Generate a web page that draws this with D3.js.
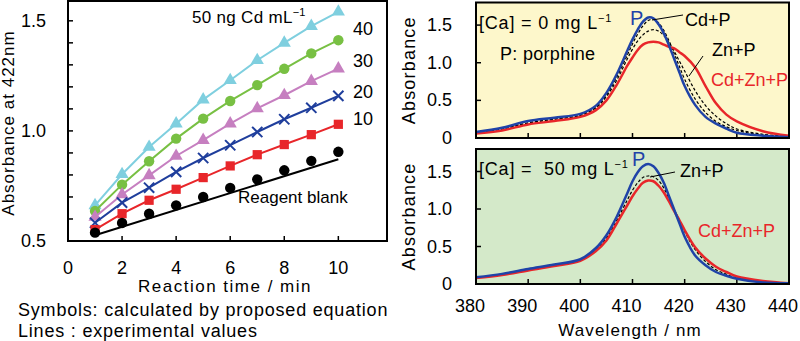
<!DOCTYPE html>
<html>
<head>
<meta charset="utf-8">
<script src="https://cdn.jsdelivr.net/npm/d3@7"></script>
<style>
  body { margin: 0; background: #fff; }
  svg { display: block; font-family: "Liberation Sans", Arial, sans-serif; }
  text { white-space: pre; }
</style>
</head>
<body>
<div id="chart"></div>
<script>
// ---- left panel: absorbance at 422 nm vs reaction time ----
const times = [1, 2, 3, 4, 5, 6, 7, 8, 9, 10];
const cd50 = [0.662, 0.803, 0.927, 1.033, 1.142, 1.230, 1.321, 1.400, 1.476, 1.541];
const cd40 = [0.636, 0.756, 0.862, 0.965, 1.056, 1.136, 1.208, 1.282, 1.352, 1.412];
const cd30 = [0.609, 0.711, 0.798, 0.886, 0.958, 1.033, 1.102, 1.162, 1.226, 1.283];
const cd20 = [0.583, 0.674, 0.742, 0.814, 0.877, 0.935, 0.995, 1.053, 1.105, 1.159];
const cd10 = [0.552, 0.624, 0.685, 0.735, 0.788, 0.841, 0.892, 0.938, 0.983, 1.030];
const blank = [0.538, 0.582, 0.624, 0.662, 0.700, 0.741, 0.780, 0.821, 0.864, 0.905];
const blankLineT = [1, 10];
const blankLineA = [0.526, 0.871];
const timeTicks = [0, 2, 4, 6, 8, 10];
const absTicksLeft = [0.5, 1.0, 1.5];
const seriesLabels = ['40', '30', '20', '10'];

// ---- right panels: spectra ----
const wl = [380, 385, 390, 395, 400, 403, 405, 407, 409, 410, 411, 412, 413, 414, 415, 416, 417, 418, 419, 420, 422, 424, 426, 428, 430, 435, 440];
const topP      = [0.08, 0.135, 0.225, 0.27, 0.32, 0.43, 0.60, 0.85, 1.16, 1.31, 1.44, 1.545, 1.60, 1.59, 1.51, 1.39, 1.23, 1.05, 0.87, 0.69, 0.44, 0.28, 0.19, 0.125, 0.07, 0.03, 0.01];
const topCdP    = [0.07, 0.12, 0.20, 0.25, 0.30, 0.41, 0.57, 0.81, 1.10, 1.25, 1.38, 1.49, 1.56, 1.58, 1.53, 1.43, 1.29, 1.12, 0.95, 0.78, 0.52, 0.34, 0.22, 0.15, 0.10, 0.04, 0.02];
const topZnP    = [0.07, 0.12, 0.20, 0.25, 0.30, 0.40, 0.55, 0.77, 1.05, 1.18, 1.29, 1.37, 1.42, 1.44, 1.42, 1.36, 1.27, 1.15, 1.02, 0.89, 0.63, 0.43, 0.29, 0.19, 0.12, 0.05, 0.02];
const topCdZnP  = [0.06, 0.10, 0.18, 0.225, 0.28, 0.37, 0.50, 0.71, 0.96, 1.07, 1.17, 1.24, 1.27, 1.28, 1.27, 1.24, 1.21, 1.19, 1.14, 1.09, 0.94, 0.69, 0.46, 0.31, 0.22, 0.09, 0.03];
const botP      = [0.09, 0.135, 0.20, 0.26, 0.33, 0.48, 0.65, 0.90, 1.21, 1.37, 1.49, 1.57, 1.60, 1.57, 1.48, 1.35, 1.17, 0.99, 0.81, 0.63, 0.38, 0.25, 0.16, 0.11, 0.07, 0.02, 0.01];
const botZnP    = [0.08, 0.13, 0.19, 0.25, 0.32, 0.46, 0.61, 0.85, 1.12, 1.25, 1.35, 1.42, 1.44, 1.43, 1.38, 1.28, 1.14, 0.99, 0.85, 0.70, 0.46, 0.30, 0.19, 0.13, 0.08, 0.03, 0.01];
const botCdZnP  = [0.08, 0.12, 0.18, 0.24, 0.31, 0.44, 0.58, 0.81, 1.05, 1.17, 1.27, 1.35, 1.38, 1.37, 1.31, 1.22, 1.10, 0.97, 0.85, 0.72, 0.49, 0.34, 0.23, 0.16, 0.10, 0.04, 0.01];
const wlTicks = [380, 390, 400, 410, 420, 430, 440];
const absTicksRight = [0, 0.5, 1.0, 1.5];

const svg = d3.select('#chart').append('svg')
    .attr('width', 800)
    .attr('height', 341);

// ========== left panel ==========
const xL = d3.scaleLinear().domain([0, 11.8]).range([68, 387]);
const yL = d3.scaleLinear().domain([0.5, 1.59]).range([241, 1]);

const left = svg.append('g');

// 内向きの目盛り
left.selectAll('.ytick')
    .data(d3.range(6, 16).map(v => v / 10))
    .enter().append('line')
    .attr('x1', xL(0)).attr('x2', xL(0) + 5)
    .attr('y1', d => yL(d)).attr('y2', d => yL(d))
    .attr('stroke', '#000').attr('stroke-width', 1.5);

left.selectAll('.xtick')
    .data(timeTicks.slice(1))
    .enter().append('line')
    .attr('x1', d => xL(d)).attr('x2', d => xL(d))
    .attr('y1', yL(0.5)).attr('y2', yL(0.5) - 5)
    .attr('stroke', '#000').attr('stroke-width', 1.5);

left.selectAll('.ylab')
    .data(absTicksLeft)
    .enter().append('text')
    .attr('x', 46).attr('y', d => yL(d) + 6)
    .attr('text-anchor', 'end')
    .style('font-size', '18px')
    .text(d => d.toFixed(1));

left.selectAll('.xlab')
    .data(timeTicks)
    .enter().append('text')
    .attr('x', d => xL(d)).attr('y', 274)
    .attr('text-anchor', 'middle')
    .style('font-size', '18px')
    .text(d => d);

left.append('text')
    .attr('x', 225).attr('y', 292)
    .attr('text-anchor', 'middle')
    .style('font-size', '17px')
    .style('letter-spacing', '1.5px')
    .text('Reaction time / min');

left.append('text')
    .attr('transform', 'translate(14,123) rotate(-90)')
    .attr('text-anchor', 'middle')
    .style('font-size', '17px')
    .style('letter-spacing', '1px')
    .text('Absorbance at 422nm');

const series = [
    { vals: cd50, color: '#7fcfdf', symbol: d3.symbolTriangle, size: 75 },
    { vals: cd40, color: '#78c043', symbol: d3.symbolCircle, size: 85 },
    { vals: cd30, color: '#c67fc0', symbol: d3.symbolTriangle, size: 75 },
    { vals: cd20, color: '#1f3e9c', symbol: d3.symbolTimes || d3.symbolX, size: 70, stroke: true },
    { vals: cd10, color: '#e8262a', symbol: d3.symbolSquare, size: 85 },
    { vals: blank, color: '#000000', symbol: d3.symbolCircle, size: 85, noLine: true }
];

const lineL = d3.line()
    .x(d => xL(d[0]))
    .y(d => yL(d[1]));

// Reagent blank (experimental line)
left.append('path')
    .datum(d3.zip(blankLineT, blankLineA))
    .attr('d', lineL)
    .attr('fill', 'none')
    .attr('stroke', '#000')
    .attr('stroke-width', 2);

series.forEach(s => {
    const pts = d3.zip(times, s.vals);
    if (!s.noLine) {
        left.append('path')
            .datum(pts)
            .attr('d', lineL)
            .attr('fill', 'none')
            .attr('stroke', s.color)
            .attr('stroke-width', 2);
    }
    left.selectAll(null)
        .data(pts)
        .enter().append('path')
        .attr('transform', d => `translate(${xL(d[0])},${yL(d[1])})`)
        .attr('d', d3.symbol().type(s.symbol).size(s.size))
        .attr('fill', s.stroke ? 'none' : s.color)
        .attr('stroke', s.stroke ? s.color : 'none')
        .attr('stroke-width', s.stroke ? 2 : 0);
});

left.append('rect')
    .attr('x', 68).attr('y', 1)
    .attr('width', 387 - 68).attr('height', 240)
    .attr('fill', 'none')
    .attr('stroke', '#000')
    .attr('stroke-width', 2);

// 凡例ラベル
const head = left.append('text')
    .attr('x', 192).attr('y', 23)
    .style('font-size', '17px')
    .style('letter-spacing', '0.3px')
    .text('50 ng Cd mL');
head.append('tspan').attr('dy', -7).style('font-size', '11px').text('\u22121');

const labelY = [35, 67, 98, 125];
seriesLabels.forEach((t, i) => {
    left.append('text')
        .attr('x', 353).attr('y', labelY[i])
        .style('font-size', '18px')
        .text(t);
});

left.append('text')
    .attr('x', 238).attr('y', 203)
    .style('font-size', '17px')
    .text('Reagent blank');

left.append('text')
    .attr('x', 18).attr('y', 316)
    .style('font-size', '18px')
    .style('letter-spacing', '0.8px')
    .text('Symbols: calculated by proposed equation');
left.append('text')
    .attr('x', 18).attr('y', 337)
    .style('font-size', '18px')
    .style('letter-spacing', '0.8px')
    .text('Lines : experimental values');

// ========== right panels ==========
const xR = d3.scaleLinear().domain([380, 440]).range([476, 789]);

function drawPanel(top, bottom, bg, curves, showXLabels) {
    const yR = d3.scaleLinear().domain([0, 1.8]).range([bottom, top]);
    const g = svg.append('g');

    g.append('rect')
        .attr('x', 476).attr('y', top)
        .attr('width', 789 - 476).attr('height', bottom - top)
        .attr('fill', bg);

    g.selectAll(null)
        .data(absTicksRight.slice(1))
        .enter().append('line')
        .attr('x1', 476).attr('x2', 481)
        .attr('y1', d => yR(d)).attr('y2', d => yR(d))
        .attr('stroke', '#000').attr('stroke-width', 1.5);

    g.selectAll(null)
        .data(wlTicks.slice(1, -1))
        .enter().append('line')
        .attr('x1', d => xR(d)).attr('x2', d => xR(d))
        .attr('y1', bottom).attr('y2', bottom - 5)
        .attr('stroke', '#000').attr('stroke-width', 1.5);

    g.selectAll(null)
        .data(absTicksRight)
        .enter().append('text')
        .attr('x', 452).attr('y', d => yR(d) + 6)
        .attr('text-anchor', 'end')
        .style('font-size', '18px')
        .text(d => d === 0 ? '0' : d.toFixed(1));

    g.append('text')
        .attr('transform', `translate(415,${(top + bottom) / 2}) rotate(-90)`)
        .attr('text-anchor', 'middle')
        .style('font-size', '18px')
        .style('letter-spacing', '1.2px')
        .text('Absorbance');

    const line = d3.line()
        .x(d => xR(d[0]))
        .y(d => yR(d[1]))
        .curve(d3.curveCatmullRom.alpha(0.5));

    curves.forEach(c => {
        g.append('path')
            .datum(d3.zip(wl, c.vals))
            .attr('d', line)
            .attr('fill', 'none')
            .attr('stroke', c.color)
            .attr('stroke-width', c.width)
            .attr('stroke-dasharray', c.dash || null);
    });

    g.append('rect')
        .attr('x', 476).attr('y', top)
        .attr('width', 789 - 476).attr('height', bottom - top)
        .attr('fill', 'none')
        .attr('stroke', '#000')
        .attr('stroke-width', 2);

    if (showXLabels) {
        g.selectAll(null)
            .data(wlTicks)
            .enter().append('text')
            .attr('x', d => xR(d) - 6).attr('y', 312)
            .attr('text-anchor', 'middle')
            .style('font-size', '18px')
            .text(d => d);
        g.append('text')
            .attr('x', 630).attr('y', 336)
            .attr('text-anchor', 'middle')
            .style('font-size', '17px')
            .style('letter-spacing', '1.1px')
            .text('Wavelength / nm');
    }
    return g;
}

const gTop = drawPanel(2.5, 138, '#fdf7cb', [
    { vals: topZnP, color: '#000', width: 1.2, dash: '3,2' },
    { vals: topCdP, color: '#000', width: 1.2, dash: '3,2' },
    { vals: topCdZnP, color: '#e8262a', width: 2.5 },
    { vals: topP, color: '#1f43a8', width: 2.5 }
], false);

const gBot = drawPanel(149, 284, '#d4e9c9', [
    { vals: botZnP, color: '#000', width: 1.2, dash: '3,2' },
    { vals: botCdZnP, color: '#e8262a', width: 2.5 },
    { vals: botP, color: '#1f43a8', width: 2.5 }
], true);

function note(g, x, y, txt, color, size, spacing, sup) {
    const t = g.append('text')
        .attr('x', x).attr('y', y)
        .attr('fill', color)
        .style('font-size', size + 'px')
        .style('letter-spacing', spacing + 'px')
        .text(txt);
    if (sup) t.append('tspan').attr('dy', -7).style('font-size', '11px').text(sup);
    return t;
}

function pointer(g, x1, y1, x2, y2) {
    g.append('line')
        .attr('x1', x1).attr('y1', y1).attr('x2', x2).attr('y2', y2)
        .attr('stroke', '#000').attr('stroke-width', 1);
}

note(gTop, 479, 29, '[Ca] = 0 mg L', '#000', 18, 0.8, '\u22121');
note(gTop, 500, 60, 'P: porphine', '#000', 18, 0.3);
note(gTop, 630, 25, 'P', '#1f43a8', 20, 0);
note(gTop, 685, 26, 'Cd+P', '#000', 18, 0);
pointer(gTop, 683, 15, 652, 20);
note(gTop, 712, 56, 'Zn+P', '#000', 18, 0);
pointer(gTop, 703, 56, 689, 76);
note(gTop, 711, 86, 'Cd+Zn+P', '#e8262a', 18, 0);

note(gBot, 479, 175, '[Ca] =  50 mg L', '#000', 18, 0.8, '\u22121');
note(gBot, 632, 166, 'P', '#1f43a8', 20, 0);
note(gBot, 680, 177, 'Zn+P', '#000', 18, 0);
pointer(gBot, 675, 172, 650, 177);
note(gBot, 698, 237, 'Cd+Zn+P', '#e8262a', 18, 0);
</script>
</body>
</html>
